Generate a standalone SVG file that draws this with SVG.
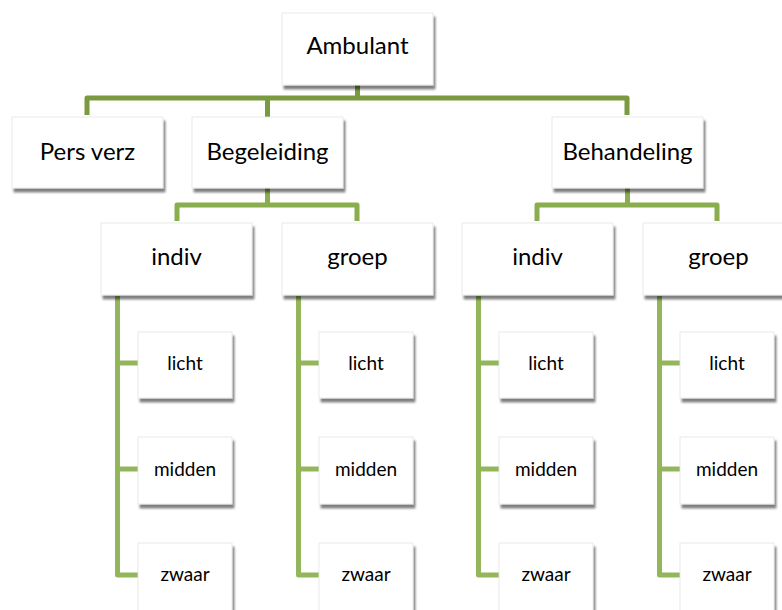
<svg xmlns="http://www.w3.org/2000/svg" width="782" height="610" viewBox="0 0 782 610">
<defs>
<filter id="sh" x="-10%" y="-10%" width="125%" height="130%">
<feDropShadow dx="2" dy="4" stdDeviation="1" flood-color="#000" flood-opacity="0.5"/>
</filter>
<style>
.box{fill:#fff;stroke:#e4e4e4;stroke-width:0.8;filter:url(#sh)}
.t{font-family:Lato,"Open Sans","Liberation Sans",sans-serif;font-size:24px;fill:#000;text-anchor:middle}
.s{font-size:19px}
.c1{fill:none;stroke:#799A3E;stroke-width:5;stroke-linejoin:round}
.c2{fill:none;stroke:#8AAE4E;stroke-width:5;stroke-linejoin:round}
.c3{fill:none;stroke:#93B65A;stroke-width:5;stroke-linejoin:round}
</style>
</defs>
<rect width="782" height="610" fill="#fff"/>
<g id="connectors">
<path class="c1" d="M357.5 85V98M87 115V98H627V115M267.5 98V117"/>
<path class="c2" d="M267.5 188V205M177 221V205H357V221"/>
<path class="c2" d="M627.5 188V205M537 221V205H717V221"/>
<path class="c3" d="M117.5 296V575H138M117.5 363H138M117.5 469H138"/>
<path class="c3" d="M298.5 296V575H319M298.5 363H319M298.5 469H319"/>
<path class="c3" d="M478.5 296V575H499M478.5 363H499M478.5 469H499"/>
<path class="c3" d="M659.5 296V575H680M659.5 363H680M659.5 469H680"/>
</g>
<g id="ambulant"><rect class="box" x="282" y="13" width="151" height="72"/><text class="t" x="357.5" y="54">Ambulant</text></g>
<g id="persverz"><rect class="box" x="12" y="117" width="151" height="71"/><text class="t" x="87.5" y="160">Pers verz</text></g>
<g id="begeleiding"><rect class="box" x="192" y="117" width="151" height="71"/><text class="t" x="267.5" y="160">Begeleiding</text></g>
<g id="behandeling"><rect class="box" x="552" y="117" width="151" height="71"/><text class="t" x="627.5" y="160">Behandeling</text></g>
<g id="beg-indiv"><rect class="box" x="101" y="223" width="151" height="72"/><text class="t" x="176.5" y="265">indiv</text></g>
<g id="beg-groep"><rect class="box" x="282" y="223" width="151" height="72"/><text class="t" x="357.5" y="265">groep</text></g>
<g id="beh-indiv"><rect class="box" x="462" y="223" width="151" height="72"/><text class="t" x="537.5" y="265">indiv</text></g>
<g id="beh-groep"><rect class="box" x="643" y="223" width="151" height="72"/><text class="t" x="718.5" y="265">groep</text></g>
<g id="bi-licht"><rect class="box" x="138" y="332" width="94" height="66"/><text class="t s" x="185" y="370">licht</text></g>
<g id="bi-midden"><rect class="box" x="138" y="437" width="94" height="67"/><text class="t s" x="185" y="476">midden</text></g>
<g id="bi-zwaar"><rect class="box" x="138" y="543" width="94" height="80"/><text class="t s" x="185" y="581">zwaar</text></g>
<g id="bg-licht"><rect class="box" x="319" y="332" width="94" height="66"/><text class="t s" x="366" y="370">licht</text></g>
<g id="bg-midden"><rect class="box" x="319" y="437" width="94" height="67"/><text class="t s" x="366" y="476">midden</text></g>
<g id="bg-zwaar"><rect class="box" x="319" y="543" width="94" height="80"/><text class="t s" x="366" y="581">zwaar</text></g>
<g id="hi-licht"><rect class="box" x="499" y="332" width="94" height="66"/><text class="t s" x="546" y="370">licht</text></g>
<g id="hi-midden"><rect class="box" x="499" y="437" width="94" height="67"/><text class="t s" x="546" y="476">midden</text></g>
<g id="hi-zwaar"><rect class="box" x="499" y="543" width="94" height="80"/><text class="t s" x="546" y="581">zwaar</text></g>
<g id="hg-licht"><rect class="box" x="680" y="332" width="94" height="66"/><text class="t s" x="727" y="370">licht</text></g>
<g id="hg-midden"><rect class="box" x="680" y="437" width="94" height="67"/><text class="t s" x="727" y="476">midden</text></g>
<g id="hg-zwaar"><rect class="box" x="680" y="543" width="94" height="80"/><text class="t s" x="727" y="581">zwaar</text></g>
</svg>
